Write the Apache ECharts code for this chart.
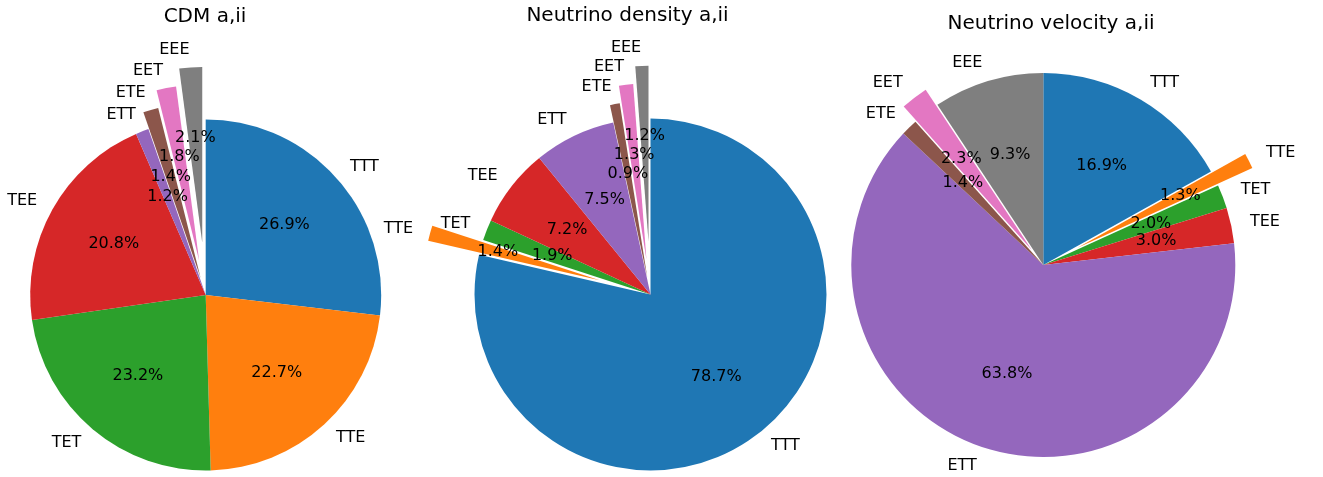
<!DOCTYPE html>
<html>
<head>
<meta charset="utf-8">
<script src="https://cdn.jsdelivr.net/npm/echarts@6/dist/echarts.min.js"></script>
<style>
html, body { margin: 0; padding: 0; background: #fff; }
#chart { width: 1323px; height: 477px; }
</style>
</head>
<body>
<div id="chart"></div>
<script>
// slice names and matplotlib tab10 colours
var labels = ['TTT', 'TTE', 'TET', 'TEE', 'ETT', 'ETE', 'EET', 'EEE'];
var colors = ['#1f77b4', '#ff7f0e', '#2ca02c', '#d62728', '#9467bd', '#8c564b', '#e377c2', '#7f7f7f'];

// percentages
var cdmValues = [26.9, 22.7, 23.2, 20.8, 1.2, 1.4, 1.8, 2.1];
var densityValues = [78.7, 1.4, 1.9, 7.2, 7.5, 0.9, 1.3, 1.2];
var velocityValues = [16.9, 1.3, 2.0, 3.0, 63.8, 1.4, 2.3, 9.3];

// explode fractions (of radius)
var cdmExplode = [0, 0, 0, 0, 0, 0.1, 0.2, 0.3];
var densityExplode = [0, 0.3, 0, 0, 0, 0.1, 0.2, 0.3];
var velocityExplode = [0, 0.2, 0, 0, 0, 0, 0.1, 0];

var pies = [
    { title: 'CDM a,ii', tx: 205, ty: 6.5, cx: 205.7, cy: 295, r: 175.5, values: cdmValues, explode: cdmExplode },
    { title: 'Neutrino density a,ii', tx: 627.5, ty: 5.3, cx: 650.5, cy: 294.5, r: 176, values: densityValues, explode: densityExplode },
    { title: 'Neutrino velocity a,ii', tx: 1051, ty: 14, cx: 1043.3, cy: 265, r: 192, values: velocityValues, explode: velocityExplode }
];

var FONT = 'DejaVu Sans';

function fncMakeSeries(p) {
    var out = [];
    for (var i = 0; i < labels.length; i++) {
        var base = {
            type: 'pie',
            center: [p.cx, p.cy],
            startAngle: 90,
            clockwise: true,
            avoidLabelOverlap: false,
            labelLayout: { hideOverlap: false },
            selectedMode: 'multiple',
            selectedOffset: p.explode[i] * p.r,
            silent: true,
            animation: false,
            emphasis: { disabled: true }
        };
        // wedge + outer name label
        var wedge = Object.assign({}, base, {
            z: 2,
            radius: [0, p.r],
            label: { position: 'outside', fontSize: 16, fontFamily: FONT, color: '#000', distanceToLabelLine: 0 },
            labelLine: { show: false, length: 0.1 * p.r, length2: 0 },
            data: p.values.map(function (v, j) {
                return {
                    value: v, name: labels[j],
                    selected: j === i && p.explode[i] > 0,
                    itemStyle: { color: j === i ? colors[j] : 'rgba(0,0,0,0)', borderWidth: 0 },
                    label: { show: j === i }
                };
            })
        });
        // invisible ring only used to place the percent text at 0.6 r
        var pct = Object.assign({}, base, {
            z: 3,
            radius: [0.2 * p.r - 6, p.r],
            label: {
                position: 'inside', fontSize: 16, fontFamily: FONT, color: '#000',
                formatter: function (d) { return d.value.toFixed(1) + '%'; }
            },
            labelLine: { show: false },
            data: p.values.map(function (v, j) {
                return {
                    value: v, name: labels[j],
                    selected: j === i && p.explode[i] > 0,
                    itemStyle: { color: 'rgba(0,0,0,0)', borderWidth: 0 },
                    label: { show: j === i }
                };
            })
        });
        out.push(wedge, pct);
    }
    return out;
}

var series = [];
pies.forEach(function (p) { series = series.concat(fncMakeSeries(p)); });

var option = {
    backgroundColor: '#fff',
    title: pies.map(function (p) {
        return {
            text: p.title, left: p.tx, top: p.ty, textAlign: 'center', padding: 0,
            textStyle: { fontFamily: FONT, fontSize: 20, fontWeight: 'normal', color: '#000' }
        };
    }),
    series: series
};

var chart = echarts.init(document.getElementById('chart'), null, { renderer: 'canvas' });
chart.setOption(option);
</script>
</body>
</html>
